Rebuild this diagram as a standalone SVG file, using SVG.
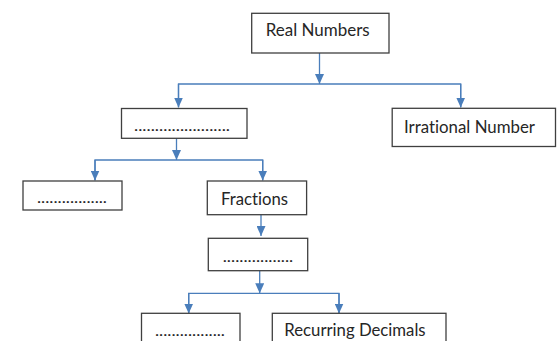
<svg xmlns="http://www.w3.org/2000/svg" width="557" height="341" viewBox="0 0 557 341">
  <style>
    .box { fill: #ffffff; stroke: #3f3f3f; stroke-width: 1.3; }
    .lbl { font-family: Lato, "Liberation Sans", sans-serif; font-size: 17px; fill: #262626; font-variant-ligatures: none; }
    .dots { font-family: Lato, "Liberation Sans", sans-serif; font-size: 15px; fill: #262626; }
    .conn { fill: none; stroke: #4a7ebb; stroke-width: 1.3; }
  </style>
  <defs>
    <marker id="arrow" markerUnits="userSpaceOnUse" markerWidth="10" markerHeight="9" viewBox="0 0 10 9" refX="10" refY="4.5" orient="auto">
      <path d="M0,0 L10,4.5 L0,9 z" fill="#4a7ebb"/>
    </marker>
  </defs>
  <rect width="557" height="341" fill="#ffffff"/>

  <g id="connectors">
    <path class="conn" d="M319.5,53 V84" marker-end="url(#arrow)"/>
    <path class="conn" d="M178.5,107 V84 H460.7 V107"/>
    <path class="conn" d="M178.5,84 V107.5" marker-end="url(#arrow)"/>
    <path class="conn" d="M460.7,84 V107.5" marker-end="url(#arrow)"/>

    <path class="conn" d="M176.5,138.3 V160" marker-end="url(#arrow)"/>
    <path class="conn" d="M95,180 V160 H262.7 V180"/>
    <path class="conn" d="M95,160 V180.5" marker-end="url(#arrow)"/>
    <path class="conn" d="M262.7,160 V180.5" marker-end="url(#arrow)"/>

    <path class="conn" d="M261,214.7 V236" marker-end="url(#arrow)"/>

    <path class="conn" d="M259.7,270.7 V293.3" marker-end="url(#arrow)"/>
    <path class="conn" d="M188.7,313 V293.3 H339 V313"/>
    <path class="conn" d="M188.7,293.3 V313.5" marker-end="url(#arrow)"/>
    <path class="conn" d="M339,293.3 V313.5" marker-end="url(#arrow)"/>
  </g>

  <g id="real-numbers">
    <rect class="box" x="251.7" y="13.3" width="137.3" height="39.7"/>
    <text class="lbl" x="265.7" y="36" textLength="104" lengthAdjust="spacingAndGlyphs">Real Numbers</text>
  </g>

  <g id="rational-blank">
    <rect class="box" x="121.5" y="108.5" width="125.5" height="29.8"/>
    <text class="dots" x="134" y="131" textLength="96" lengthAdjust="spacingAndGlyphs">.......................</text>
  </g>

  <g id="irrational-number">
    <rect class="box" x="392.2" y="108.3" width="163.3" height="38.2"/>
    <text class="lbl" x="404" y="133.3" textLength="131" lengthAdjust="spacingAndGlyphs">Irrational Number</text>
  </g>

  <g id="integers-blank">
    <rect class="box" x="23" y="181" width="99" height="29"/>
    <text class="dots" x="37" y="203" textLength="70" lengthAdjust="spacingAndGlyphs">.................</text>
  </g>

  <g id="fractions">
    <rect class="box" x="207.3" y="181" width="99.3" height="33.7"/>
    <text class="lbl" x="221" y="205" textLength="67" lengthAdjust="spacingAndGlyphs">Fractions</text>
  </g>

  <g id="decimals-blank">
    <rect class="box" x="208.3" y="238.3" width="99.4" height="32.4"/>
    <text class="dots" x="222.7" y="261.7" textLength="70.6" lengthAdjust="spacingAndGlyphs">.................</text>
  </g>

  <g id="terminating-blank">
    <rect class="box" x="141.5" y="313.3" width="98.5" height="40"/>
    <text class="dots" x="155" y="336" textLength="70" lengthAdjust="spacingAndGlyphs">.................</text>
  </g>

  <g id="recurring-decimals">
    <rect class="box" x="272.3" y="313.3" width="173.7" height="40"/>
    <text class="lbl" x="284.3" y="335.5" textLength="141.3" lengthAdjust="spacingAndGlyphs">Recurring Decimals</text>
  </g>
</svg>
